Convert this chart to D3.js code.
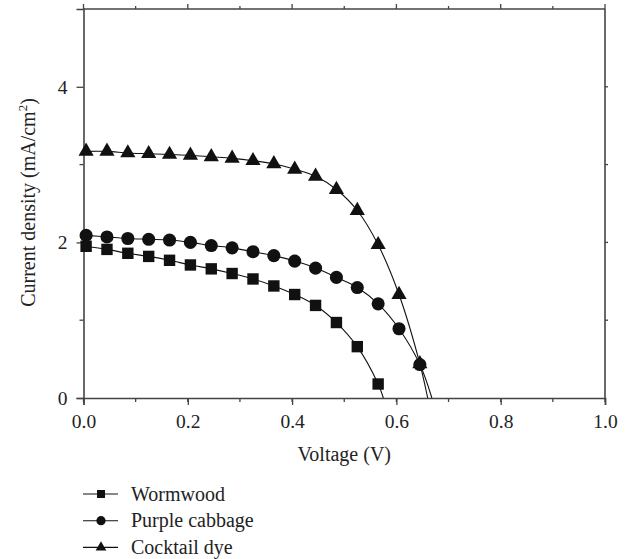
<!DOCTYPE html>
<html lang="en">
    <head>
        <title></title>
        <meta charset="UTF-8">
        <script src="https://cdn.jsdelivr.net/npm/d3@7"></script>
    </head>
    <style>
        body { margin: 0; background: #fff; }
        svg text { font-family: "Liberation Serif", "Times New Roman", "DejaVu Serif", serif !important; fill: #222; }
    </style>
    <body>
        <script>
            // data
            var voltage = [0.005, 0.045, 0.085, 0.125, 0.165, 0.205, 0.245, 0.285, 0.325,
                           0.365, 0.405, 0.445, 0.485, 0.525, 0.565, 0.605, 0.645];
            var wormwood = [1.95, 1.91, 1.86, 1.82, 1.77, 1.71, 1.66, 1.60, 1.53,
                            1.44, 1.33, 1.19, 0.97, 0.66, 0.18];
            var purpleCabbage = [2.09, 2.07, 2.05, 2.04, 2.03, 2.00, 1.96, 1.93, 1.88,
                                 1.83, 1.76, 1.67, 1.55, 1.42, 1.21, 0.89, 0.43];
            var cocktailDye = [3.17, 3.17, 3.15, 3.14, 3.13, 3.12, 3.10, 3.08, 3.05,
                               3.01, 2.94, 2.85, 2.68, 2.41, 1.97, 1.33, 0.44];
            // open-circuit voltages where the curves reach zero
            var voc = [0.575, 0.668, 0.660];
            var seriesNames = ["Wormwood", "Purple cabbage", "Cocktail dye"];
            var xTicks = [0, 0.2, 0.4, 0.6, 0.8, 1.0];
            var yTicks = [0, 2, 4];

            var width = 628, height = 559;
            var margin = {left: 83.5, right: 23, top: 9, bottom: 161};
            var serif = '"Liberation Serif", "Times New Roman", serif';

            var svg = d3.select("body").append("svg")
                    .attr("width", width)
                    .attr("height", height);

            var x = d3.scaleLinear().domain([0, 1]).range([margin.left, width - margin.right]);
            var y = d3.scaleLinear().domain([0, 5]).range([height - margin.bottom, margin.top]);

            var axisColor = "#444";

            // minor ticks
            var xMinor = d3.range(0, 1.001, 0.1);
            var yMinor = [1, 3];

            var g = svg.append("g");

            // bottom axis
            var bottom = g.append("g")
                    .attr("transform", "translate(0," + y(0) + ")")
                    .call(d3.axisBottom(x).tickValues(xTicks).tickFormat(d3.format(".1f"))
                        .tickSize(7).tickPadding(9));
            bottom.attr("font-family", serif);
            bottom.selectAll(".tick line").attr("stroke", axisColor).attr("stroke-width", 1.3);
            bottom.selectAll("text").style("font-size", "19.5px").attr("fill", "#222");
            bottom.select(".domain").attr("stroke", axisColor).attr("stroke-width", 1.6);
            g.append("g").selectAll("line").data(xMinor).enter().append("line")
                    .attr("x1", function(d){ return x(d); }).attr("x2", function(d){ return x(d); })
                    .attr("y1", y(0)).attr("y2", y(0) + 4)
                    .attr("stroke", axisColor).attr("stroke-width", 1.3);

            // top axis
            g.append("g").selectAll("line").data(xMinor).enter().append("line")
                    .attr("x1", function(d){ return x(d); }).attr("x2", function(d){ return x(d); })
                    .attr("y1", y(5)).attr("y2", function(d, i){ return y(5) - (i % 2 ? 3 : 5); })
                    .attr("stroke", axisColor).attr("stroke-width", 1.3);
            g.append("line")
                    .attr("x1", x(0)).attr("x2", x(1)).attr("y1", y(5)).attr("y2", y(5))
                    .attr("stroke", axisColor).attr("stroke-width", 1.6);

            // left axis
            var left = g.append("g")
                    .attr("transform", "translate(" + x(0) + ",0)")
                    .call(d3.axisLeft(y).tickValues(yTicks).tickFormat(d3.format("d"))
                        .tickSize(7).tickPadding(9));
            left.attr("font-family", serif);
            left.selectAll(".tick line").attr("stroke", axisColor).attr("stroke-width", 1.3);
            left.selectAll("text").style("font-size", "19.5px").attr("fill", "#222");
            left.select(".domain").attr("stroke", axisColor).attr("stroke-width", 1.6);
            g.append("g").selectAll("line").data(yMinor).enter().append("line")
                    .attr("x1", x(0)).attr("x2", x(0) - 4)
                    .attr("y1", function(d){ return y(d); }).attr("y2", function(d){ return y(d); })
                    .attr("stroke", axisColor).attr("stroke-width", 1.3);

            // right axis
            g.append("line")
                    .attr("x1", x(1)).attr("x2", x(1)).attr("y1", y(0)).attr("y2", y(5))
                    .attr("stroke", axisColor).attr("stroke-width", 1.6);
            g.append("g").selectAll("line").data([1, 2, 3, 4]).enter().append("line")
                    .attr("x1", x(1)).attr("x2", x(1) + 3)
                    .attr("y1", function(d){ return y(d); }).attr("y2", function(d){ return y(d); })
                    .attr("stroke", axisColor).attr("stroke-width", 1.3);

            // axis titles
            svg.append("text")
                    .attr("x", (x(0) + x(1)) / 2)
                    .attr("y", 461)
                    .style("text-anchor", "middle")
                    .style("font-size", "20px")
                    .text("Voltage (V)");

            var yt = svg.append("text")
                    .attr("transform", "translate(35,202.5) rotate(-90)")
                    .style("text-anchor", "middle")
                    .style("font-size", "20px");
            yt.append("tspan").text("Current density (mA/cm");
            yt.append("tspan").attr("dy", -8).style("font-size", "13px").text("2");
            yt.append("tspan").attr("dy", 8).text(")");

            // series
            var seriesValues = [wormwood, purpleCabbage, cocktailDye];
            var symbolTypes = [d3.symbolSquare, d3.symbolCircle, d3.symbolTriangle];
            var symbolSizes = [130, 135, 100];

            var lineCat = d3.line()
                    .x(function(d){ return x(d[0]); })
                    .y(function(d){ return y(d[1]); })
                    .curve(d3.curveCatmullRom.alpha(0.5));

            seriesValues.forEach(function(vals, k){
                var pts = vals.map(function(v, i){ return [voltage[i], v]; });
                var full = pts.concat([[voc[k], 0]]);
                svg.append("path")
                        .attr("d", lineCat(full))
                        .attr("fill", "none")
                        .attr("stroke", "#111")
                        .attr("stroke-width", 1.1);
                svg.append("g").selectAll("path").data(pts).enter().append("path")
                        .attr("d", d3.symbol().type(symbolTypes[k]).size(symbolSizes[k]))
                        .attr("transform", function(d){ return "translate(" + x(d[0]) + "," + y(d[1]) + ")"; })
                        .attr("fill", "#111");
            });

            // legend
            var legend = svg.append("g");
            seriesNames.forEach(function(name, k){
                var ly = 494 + k * 26.7;
                legend.append("line")
                        .attr("x1", 83).attr("x2", 118)
                        .attr("y1", ly).attr("y2", ly)
                        .attr("stroke", "#111").attr("stroke-width", 1.1);
                legend.append("path")
                        .attr("d", d3.symbol().type(symbolTypes[k]).size(symbolSizes[k] * 0.5))
                        .attr("transform", "translate(101," + ly + ")")
                        .attr("fill", "#111");
                legend.append("text")
                        .attr("x", 131)
                        .attr("y", ly + 6.5)
                        .style("font-size", "20px")
                        .text(name);
            });
        </script>
    </body>
</html>
